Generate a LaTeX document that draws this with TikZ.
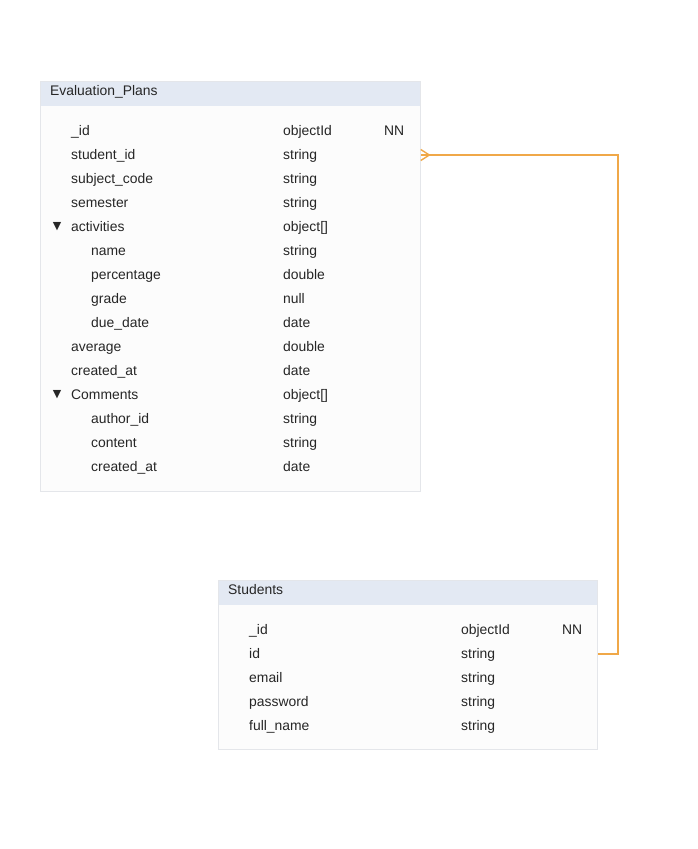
\documentclass[tikz,border=0pt]{standalone}
\usepackage{fontspec}
\setmainfont{Liberation Sans}
\newfontfamily\symfont{DejaVu Sans}
\definecolor{hdrfill}{HTML}{E3E9F3}
\definecolor{bodyfill}{HTML}{FCFCFC}
\definecolor{tblborder}{HTML}{E4E6EA}
\definecolor{txt}{HTML}{262626}
\definecolor{relcol}{HTML}{F0A848}
\tikzset{
  tbody/.style={draw=tblborder, fill=bodyfill, line width=0.8pt, anchor=north west, inner sep=0pt},
  thead/.style={fill=hdrfill, anchor=north west, inner sep=0pt},
  lbl/.style={anchor=west, inner sep=0pt, text height=10pt, text depth=3pt, text=txt, font=\fontsize{13.9}{15}\selectfont},
  tri/.style={anchor=center, inner sep=0pt, text=txt, font=\symfont\fontsize{11}{12}\selectfont},
  rel/.style={draw=relcol, line width=1.6pt},
}
\begin{document}
\begin{tikzpicture}[x=1pt,y=-1pt]
\useasboundingbox (0,0) rectangle (697,849);
% Evaluation_Plans
\node[tbody, minimum width=380pt, minimum height=410pt] (epbody) at (40,81) {};
\node[thead, minimum width=379.2pt, minimum height=24pt] (ephead) at (40.4,81.4) {};
\node[lbl] (eptitle) at (50,92) {Evaluation\_Plans};
\node[lbl] (ep1) at (71,132) {\_id};
\node[lbl] (ep1t) at (283,132) {objectId};
\node[lbl] (ep1n) at (384,132) {NN};
\node[lbl] (ep2) at (71,156) {student\_id};
\node[lbl] (ep2t) at (283,156) {string};
\node[lbl] (ep3) at (71,180) {subject\_code};
\node[lbl] (ep3t) at (283,180) {string};
\node[lbl] (ep4) at (71,204) {semester};
\node[lbl] (ep4t) at (283,204) {string};
\node[tri] (ep5a) at (57,226.5) {▼};
\node[lbl] (ep5) at (71,228) {activities};
\node[lbl] (ep5t) at (283,228) {object[]};
\node[lbl] (ep6) at (91,252) {name};
\node[lbl] (ep6t) at (283,252) {string};
\node[lbl] (ep7) at (91,276) {percentage};
\node[lbl] (ep7t) at (283,276) {double};
\node[lbl] (ep8) at (91,300) {grade};
\node[lbl] (ep8t) at (283,300) {null};
\node[lbl] (ep9) at (91,324) {due\_date};
\node[lbl] (ep9t) at (283,324) {date};
\node[lbl] (ep10) at (71,348) {average};
\node[lbl] (ep10t) at (283,348) {double};
\node[lbl] (ep11) at (71,372) {created\_at};
\node[lbl] (ep11t) at (283,372) {date};
\node[tri] (ep12a) at (57,394.5) {▼};
\node[lbl] (ep12) at (71,396) {Comments};
\node[lbl] (ep12t) at (283,396) {object[]};
\node[lbl] (ep13) at (91,420) {author\_id};
\node[lbl] (ep13t) at (283,420) {string};
\node[lbl] (ep14) at (91,444) {content};
\node[lbl] (ep14t) at (283,444) {string};
\node[lbl] (ep15) at (91,468) {created\_at};
\node[lbl] (ep15t) at (283,468) {date};
% Students
\node[tbody, minimum width=379pt, minimum height=169pt] (stbody) at (218,580) {};
\node[thead, minimum width=378.2pt, minimum height=24pt] (sthead) at (218.4,580.4) {};
\node[lbl] (sttitle) at (228,591) {Students};
\node[lbl] (st1) at (249,631) {\_id};
\node[lbl] (st1t) at (461,631) {objectId};
\node[lbl] (st1n) at (562,631) {NN};
\node[lbl] (st2) at (249,655) {id};
\node[lbl] (st2t) at (461,655) {string};
\node[lbl] (st3) at (249,679) {email};
\node[lbl] (st3t) at (461,679) {string};
\node[lbl] (st4) at (249,703) {password};
\node[lbl] (st4t) at (461,703) {string};
\node[lbl] (st5) at (249,727) {full\_name};
\node[lbl] (st5t) at (461,727) {string};
% relation
\coordinate (relA) at ([yshift=1pt]stbody.east |- st2);
\coordinate (relB) at ([yshift=1pt]epbody.east |- ep2);
\coordinate (relfoot) at ([xshift=8.5pt]relB);
\draw[rel] (relA) -- ++(20,0) |- (relB);
\draw[rel, line width=1.4pt] ([yshift=-5.5pt]relB) -- (relfoot) -- ([yshift=5.5pt]relB);
\end{tikzpicture}
\end{document}
